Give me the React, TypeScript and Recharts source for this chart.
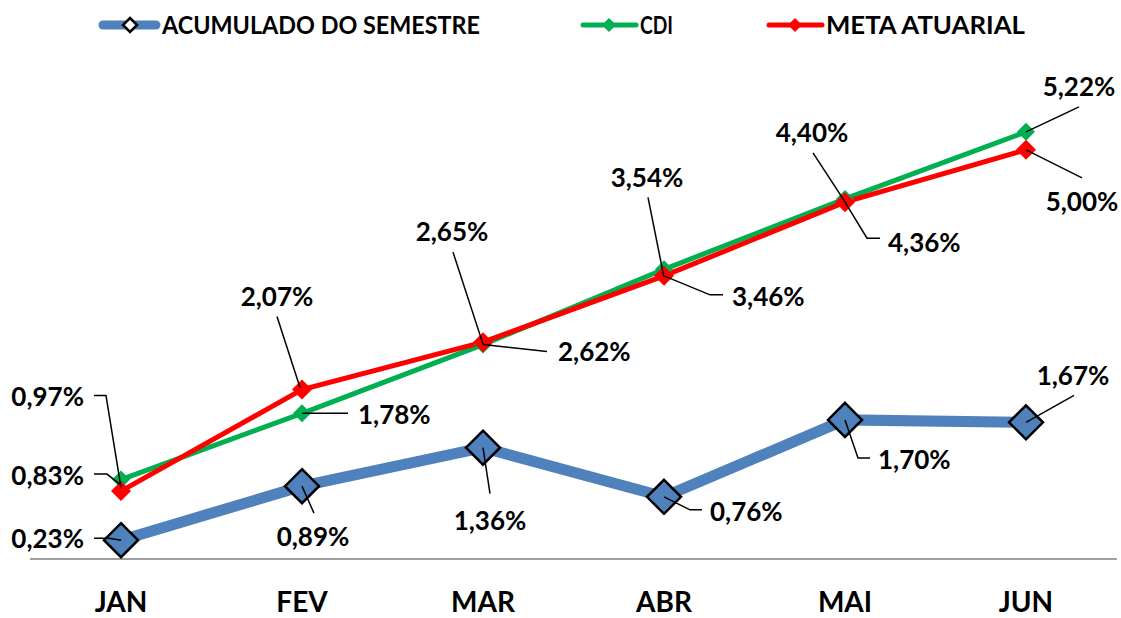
import { LineChart, Line, XAxis, YAxis, LabelList } from 'recharts';

// dados do semestre (%)
const meses = ['JAN', 'FEV', 'MAR', 'ABR', 'MAI', 'JUN'];
const acumulado = [0.23, 0.89, 1.36, 0.76, 1.7, 1.67];
const cdi = [0.97, 1.78, 2.62, 3.54, 4.4, 5.22];
const meta = [0.83, 2.07, 2.65, 3.46, 4.36, 5.0];

const nomes = ['ACUMULADO DO SEMESTRE', 'CDI', 'META ATUARIAL'];
const cores = ['#4F81BD', '#00B050', '#FF0000'];

const data = meses.map((mes, i) => ({
  mes,
  acumulado: acumulado[i],
  cdi: cdi[i],
  meta: meta[i],
}));

const FONT = 'Lato, "Open Sans", sans-serif';
const LABEL_SIZE = 26;

type Pos = { dx: number; dy: number; anchor: 'start' | 'middle' | 'end'; leader: number[][] };

// posição dos rótulos (relativa ao ponto) e linhas de chamada
const posAcumulado: Pos[] = [
  { dx: -37, dy: -2, anchor: 'end', leader: [[-27, -2], [-12, -2], [0, 0]] },
  { dx: 11, dy: 50, anchor: 'middle', leader: [[0, 0], [12, 27]] },
  { dx: 7, dy: 73, anchor: 'middle', leader: [[0, 0], [7, 46]] },
  { dx: 46, dy: 15, anchor: 'start', leader: [[0, 0], [26, 13], [38, 13]] },
  { dx: 33, dy: 40, anchor: 'start', leader: [[0, 0], [13, 38], [25, 38]] },
  { dx: 47, dy: -47, anchor: 'middle', leader: [[0, 0], [48, -27]] },
];
const posCdi: Pos[] = [
  { dx: -37, dy: -83, anchor: 'end', leader: [[-27, -84], [-15, -84], [0, 8]] },
  { dx: 56, dy: 1, anchor: 'start', leader: [[0, 0], [46, 0]] },
  { dx: 75, dy: 7, anchor: 'start', leader: [[0, 0], [64, 7]] },
  { dx: -17, dy: -92, anchor: 'middle', leader: [[-16, -72], [0, 8]] },
  { dx: -33, dy: -66, anchor: 'middle', leader: [[-32, -46], [0, 3]] },
  { dx: 53, dy: -45, anchor: 'middle', leader: [[0, 0], [53, -25]] },
];
const posMeta: Pos[] = [
  { dx: -37, dy: -15, anchor: 'end', leader: [[-27, -17], [-14, -17], [0, -6]] },
  { dx: -25, dy: -93, anchor: 'middle', leader: [[-25, -73], [-2, -2]] },
  { dx: -31, dy: -111, anchor: 'middle', leader: [[-30, -90], [0, 2]] },
  { dx: 68, dy: 21, anchor: 'start', leader: [[0, 0], [46, 19], [59, 19]] },
  { dx: 43, dy: 40, anchor: 'start', leader: [[0, 0], [22, 36], [35, 36]] },
  { dx: 56, dy: 52, anchor: 'middle', leader: [[0, 0], [56, 28]] },
];

const fmt = (v: number) => v.toFixed(2).replace('.', ',') + '%';

function rotulo(pos: Pos[]) {
  return (props: any) => {
    const x = props.x ?? props.viewBox?.x;
    const y = props.y ?? props.viewBox?.y;
    const p = pos[props.index];
    if (!p || x == null || y == null) return null;
    const pts = p.leader.map(([a, b]) => `${x + a},${y + b}`).join(' ');
    return (
      <g>
        <polyline points={pts} fill="none" stroke="#000" strokeWidth={1.5} />
        <text
          x={x + p.dx}
          y={y + p.dy + LABEL_SIZE * 0.36}
          textAnchor={p.anchor}
          fontFamily={FONT}
          fontWeight={700}
          fontSize={LABEL_SIZE}
          fill="#000"
        >
          {fmt(Number(props.value))}
        </text>
      </g>
    );
  };
}

function losango(r: number, fill: string, stroke?: string, sw = 0) {
  return (props: any) => {
    const { cx, cy, index } = props;
    if (cx == null || cy == null) return <g key={index} />;
    return (
      <path
        key={index}
        d={`M${cx},${cy - r} L${cx + r},${cy} L${cx},${cy + r} L${cx - r},${cy} Z`}
        fill={fill}
        stroke={stroke ?? 'none'}
        strokeWidth={sw}
      />
    );
  };
}

function Legenda() {
  const itens = [
    { x: 103, tx: 162, len: 318, marca: <path d="M130,18 L137,25 L130,32 L123,25 Z" fill="#fff" stroke="#000" strokeWidth={2.5} />, w: 9 },
    { x: 583, tx: 640, len: 33, marca: <path d="M609,18 L616,25 L609,32 L602,25 Z" fill={cores[1]} />, w: 5 },
    { x: 769, tx: 826, len: 199, marca: <path d="M795,18 L802,25 L795,32 L788,25 Z" fill={cores[2]} />, w: 5 },
  ];
  return (
    <svg width={1121} height={50} style={{ position: 'absolute', left: 0, top: 0 }}>
      {itens.map((it, i) => (
        <g key={nomes[i]}>
          <line x1={it.x} y1={25} x2={it.x + 53} y2={25} stroke={cores[i]} strokeWidth={it.w} strokeLinecap="round" />
          {it.marca}
          <text
            x={it.tx}
            y={25 + 25 * 0.36}
            fontFamily={FONT}
            fontWeight={700}
            fontSize={25}
            fill="#000"
            textLength={it.len}
            lengthAdjust="spacingAndGlyphs"
          >
            {nomes[i]}
          </text>
        </g>
      ))}
    </svg>
  );
}

export default function App() {
  return (
    <div style={{ position: 'absolute', left: 0, top: 0, width: 1121, height: 618, background: '#fff' }}>
      <LineChart width={1121} height={618} data={data} margin={{ top: 68, right: 4, bottom: 9, left: 30 }}>
        <XAxis
          dataKey="mes"
          padding={{ left: 91, right: 91 }}
          height={50}
          tickLine={false}
          tickSize={0}
          tickMargin={33}
          axisLine={{ stroke: '#A0A0A0', strokeWidth: 2 }}
          tick={{ fill: '#000', fontSize: 28, fontWeight: 700, fontFamily: FONT }}
        />
        <YAxis hide domain={[0, 6]} />
        <Line
          dataKey="acumulado"
          name={nomes[0]}
          stroke={cores[0]}
          strokeWidth={11}
          dot={losango(17, cores[0], '#000', 2.5)}
          isAnimationActive={false}
        >
          <LabelList dataKey="acumulado" content={rotulo(posAcumulado)} />
        </Line>
        <Line
          dataKey="cdi"
          name={nomes[1]}
          stroke={cores[1]}
          strokeWidth={5}
          dot={losango(9, cores[1])}
          isAnimationActive={false}
        >
          <LabelList dataKey="cdi" content={rotulo(posCdi)} />
        </Line>
        <Line
          dataKey="meta"
          name={nomes[2]}
          stroke={cores[2]}
          strokeWidth={5}
          dot={losango(10, cores[2])}
          isAnimationActive={false}
        >
          <LabelList dataKey="meta" content={rotulo(posMeta)} />
        </Line>
      </LineChart>
      <Legenda />
    </div>
  );
}
